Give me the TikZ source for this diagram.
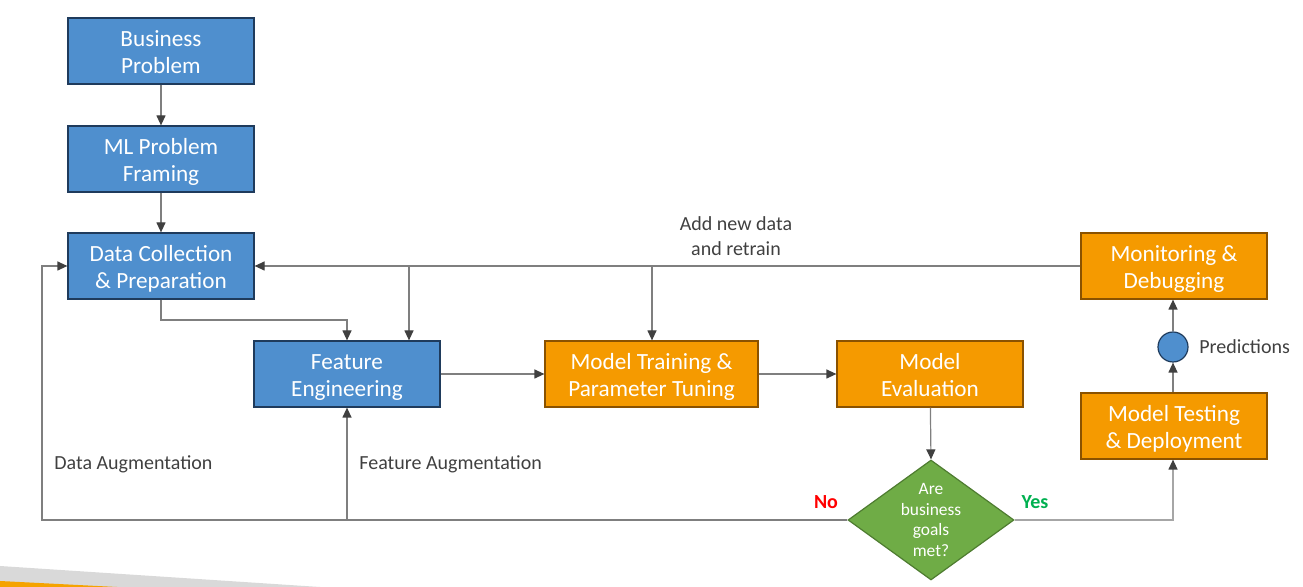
\documentclass[tikz,border=0pt]{standalone}
\usepackage{fontspec}
\setmainfont{Carlito}
\usetikzlibrary{arrows.meta,shapes.geometric}
\definecolor{bluef}{HTML}{4F8FCE}
\definecolor{blued}{HTML}{1F3B5C}
\definecolor{orangef}{HTML}{F59A00}
\definecolor{oranged}{HTML}{8A5200}
\definecolor{greenf}{HTML}{6FAC46}
\definecolor{greend}{HTML}{4E7C30}
\definecolor{linec}{HTML}{7F7F7F}
\definecolor{linel}{HTML}{A6A6A6}
\definecolor{tipc}{HTML}{404040}
\definecolor{labc}{HTML}{404040}
\definecolor{nored}{HTML}{FF0000}
\definecolor{yesgreen}{HTML}{00B050}
\definecolor{bandgray}{HTML}{D9D9D9}
\definecolor{bandorange}{HTML}{F5A300}
\begin{document}
\begin{tikzpicture}[x=0.5pt,y=-0.5pt,
  box/.style={draw, line width=0.6pt, minimum height=33pt, minimum width=93pt, inner sep=0pt, align=center, text=white, font=\fontsize{11.6}{13.5}\selectfont,
    execute at begin node={\rule[-3pt]{0pt}{28.5pt}}},
  bluebox/.style={box, fill=bluef, draw=blued},
  orangebox/.style={box, fill=orangef, draw=oranged},
  conn/.style={draw=linec, line width=0.6pt, -{Triangle[length=5pt,width=4.5pt,color=tipc]}},
  lab/.style={text=labc, font=\fontsize{10}{12.5}\selectfont, align=center, inner sep=0pt}]
\useasboundingbox (0,0) rectangle (1303,587);
% bottom-left decoration
\fill[bandgray] (0,566) -- (320,587) -- (0,587) -- cycle;
\fill[bandorange] (0,581) -- (117,587) -- (0,587) -- cycle;
% nodes
\node[bluebox] (bp) at (161,51) {Business\\Problem};
\node[bluebox] (ml) at (161,159) {ML Problem\\Framing};
\node[bluebox] (dc) at (161,266) {Data Collection\\\& Preparation};
\node[bluebox] (fe) at (347,374) {Feature\\Engineering};
\node[orangebox, minimum width=106.5pt] (mt) at (651.5,374) {Model Training \&\\Parameter Tuning};
\node[orangebox] (me) at (930,374) {Model\\Evaluation};
\node[orangebox] (mon) at (1174,266) {Monitoring \&\\Debugging};
\node[orangebox] (mtd) at (1174,426) {Model Testing\\\& Deployment};
\node[circle, draw=blued, fill=bluef, line width=0.6pt, minimum size=15pt, inner sep=0pt] (pred) at (1173,347) {};
\node[diamond, draw=greend, fill=greenf, line width=0.6pt, minimum width=83pt, minimum height=60pt, inner sep=0pt] (dec) at (931,520) {};
\node[text=white, align=center, inner sep=0pt, font=\fontsize{8.7}{10.3}\selectfont] (dect) at (dec.center) {Are\\business\\goals\\met?};
% labels
\node[lab] (addl) at (736,236) {Add new data\\and retrain};
\node[lab, anchor=west] (dal) at (54,464) {Data Augmentation};
\node[lab, anchor=west] (fal) at (359,464) {Feature Augmentation};
\node[lab, anchor=west] (prl) at (1199,347) {Predictions};
\node[inner sep=0pt, text=nored, font=\fontsize{10}{12}\selectfont\bfseries] (nol) at (826,502) {No};
\node[inner sep=0pt, text=yesgreen, font=\fontsize{10}{12}\selectfont\bfseries] (yesl) at (1035,502) {Yes};
% coordinates
\coordinate (dcb) at (161,320);
\coordinate (fet) at (347,320);
\coordinate (j1) at (409,266);
\coordinate (j2) at (652,266);
\coordinate (nl) at (42,520);
\coordinate (nu) at (42,266);
\coordinate (fj) at (347,520);
\coordinate (yr) at (1173,520);
% connectors
\draw[conn] (bp) -- (ml);
\draw[conn] (ml) -- (dc);
\draw[conn] (dc.south) -- (dcb) -- (fet) -- (fe.north);
\draw[conn] (mon.west) -- (dc.east);
\draw[conn] (j1) -- (j1 |- fe.north);
\draw[conn] (j2) -- (j2 |- mt.north);
\draw[conn] (fe) -- (mt);
\draw[conn] (mt) -- (me);
\draw[conn] (me) -- (dec.north);
\draw[conn] (dec.west) -- (nl) -- (nu) -- (dc.west);
\draw[conn] (fj) -- (fe.south);
\draw[conn, draw=linel] (dec.east) -- (yr) -- (yr |- mtd.south);
\draw[conn] (mtd.north -| pred) -- (pred.south);
\draw[conn] (pred.north) -- (pred |- mon.south);
\end{tikzpicture}
\end{document}
